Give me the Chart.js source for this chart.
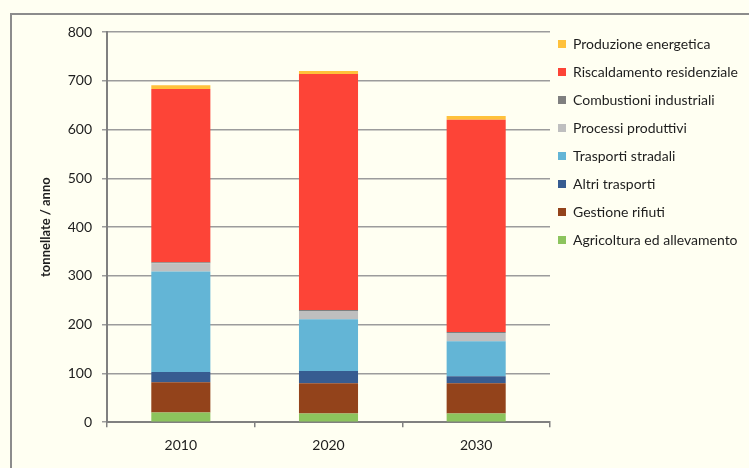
<!DOCTYPE html>
<html>
<head>
<meta charset="utf-8">
<script src="https://cdn.jsdelivr.net/npm/chart.js@4.4.1/dist/chart.umd.min.js"></script>
<style>
  html, body { margin: 0; padding: 0; background: #FFFFF2; overflow: hidden; }
  #wrap { position: relative; width: 749px; height: 468px; }
  #frame { position: absolute; left: 10px; top: 13px; width: 900px; height: 600px;
           border: 2px solid #8C8C8C; box-sizing: border-box; }
  #c { position: absolute; left: 0; top: 0; }
</style>
</head>
<body>
<div id="wrap">
  <div id="frame"></div>
  <canvas id="c" width="749" height="468"></canvas>
</div>
<script>
// emissioni per settore, tonnellate / anno
const anni = ["2010", "2020", "2030"];

const agricoltura    = [20, 18, 18];
const rifiuti        = [62, 62, 62];
const altriTrasporti = [21, 25, 14];
const stradali       = [206, 106, 72];
const processi       = [17, 17, 17];
const combustioni    = [2, 2, 2];
const riscaldamento  = [355, 484, 435];
const produzione     = [8, 6, 8];

const settori = [
  ["Agricoltura ed allevamento", agricoltura,    "#8CC45D"],
  ["Gestione rifiuti",           rifiuti,        "#93431B"],
  ["Altri trasporti",            altriTrasporti, "#375C91"],
  ["Trasporti stradali",         stradali,       "#63B5D6"],
  ["Processi produttivi",        processi,       "#BFBFBF"],
  ["Combustioni industriali",    combustioni,    "#7F7F7F"],
  ["Riscaldamento residenziale", riscaldamento,  "#FD4437"],
  ["Produzione energetica",      produzione,     "#FFC13B"]
];

const yTicks = [0, 100, 200, 300, 400, 500, 600, 700, 800];

const FONT = "Lato, 'Open Sans', sans-serif";
const INK = "#1E1E1E";

// legenda a larghezza fissa, un po' piu' a sinistra e in alto
const legendaFissa = {
  id: "legendaFissa",
  afterInit(chart) {
    const lg = chart.legend;
    const fit = lg.fit.bind(lg);
    lg.fit = () => { fit(); lg.width = 199; };
  },
  afterLayout(chart) {
    chart.legend.left -= 6;
    chart.legend.top -= 9;
  }
};

new Chart(document.getElementById("c"), {
  type: "bar",
  data: {
    labels: anni,
    datasets: settori.map(([label, data, color]) => ({
      label, data,
      backgroundColor: color,
      borderWidth: 0,
      barPercentage: 0.4,
      categoryPercentage: 1.0
    }))
  },
  plugins: [legendaFissa],
  options: {
    responsive: false,
    animation: false,
    layout: { padding: { top: 32, right: 0, bottom: 4, left: 30 } },
    plugins: {
      tooltip: { enabled: false },
      legend: {
        position: "right",
        align: "start",
        reverse: true,
        labels: {
          boxWidth: 8, boxHeight: 8, padding: 14,
          color: INK,
          font: { family: FONT, size: 14 }
        }
      }
    },
    scales: {
      x: {
        stacked: true,
        border: { color: "#808080", width: 2 },
        grid: { display: true, drawOnChartArea: false, tickLength: 5, color: "#808080", lineWidth: 1.5, offset: true },
        ticks: { color: INK, padding: 10, font: { family: FONT, size: 14 } }
      },
      y: {
        stacked: true,
        min: 0, max: 800,
        afterFit: s => { s.width = 77; },
        afterBuildTicks: s => { s.ticks = yTicks.map(v => ({ value: v })); },
        border: { color: "#808080", width: 2 },
        grid: { color: "#9C9C9C", lineWidth: 1.5, tickLength: 5 },
        ticks: { color: INK, padding: 10, font: { family: FONT, size: 14 } },
        title: {
          display: true, text: "tonnellate / anno", color: INK,
          font: { family: FONT, size: 13, weight: "bold" },
          padding: { top: 8, bottom: 0 }
        }
      }
    }
  }
});
</script>
</body>
</html>
